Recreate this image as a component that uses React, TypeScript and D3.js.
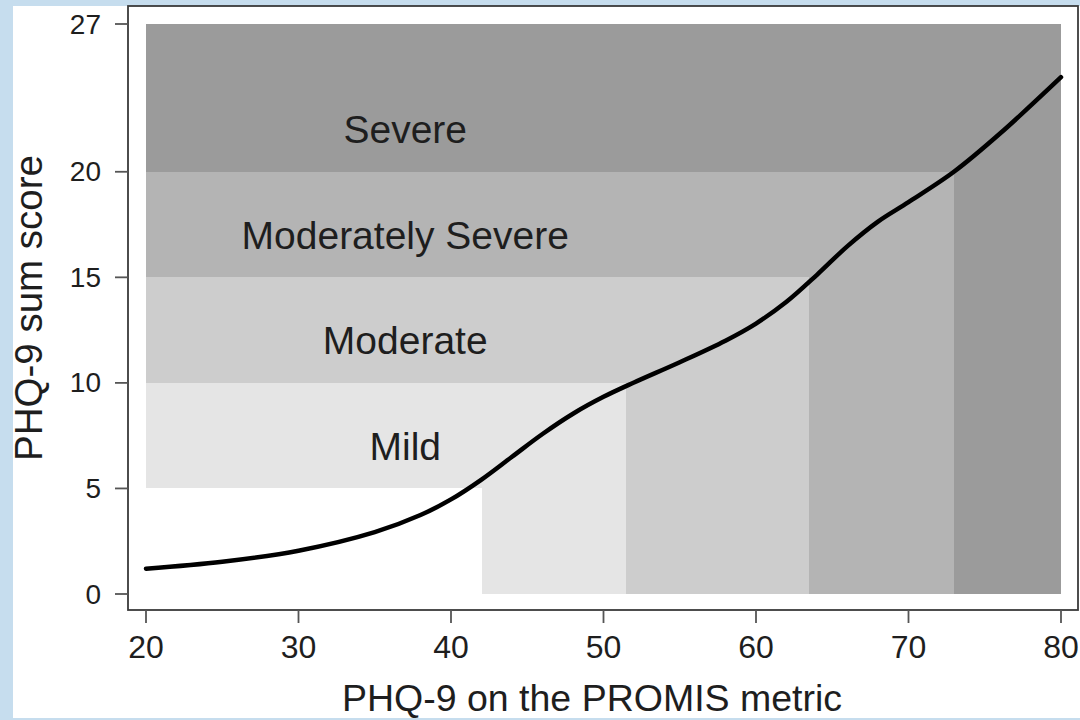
import React from "react";
import * as d3 from "d3";

const categories = ["Mild", "Moderate", "Moderately Severe", "Severe"];
const phqCutoffs = [5, 10, 15, 20];
const promisCutoffs = [42, 51.5, 63.5, 73];
const bandColors = ["#e5e5e5", "#cdcdcd", "#b4b4b4", "#9b9b9b"];
const labelX = [37, 37, 37, 37];
const labelY = [7, 12, 17, 22];

const curveX = [20, 25, 30, 35, 38, 40, 42, 44, 46, 48, 50, 52, 55, 58, 60, 62, 64, 66, 68, 70, 73, 76, 80];
const curveY = [1.2, 1.53, 2.05, 2.93, 3.74, 4.48, 5.42, 6.5, 7.58, 8.54, 9.34, 10.02, 10.98, 12.0, 12.81, 13.84, 15.12, 16.48, 17.64, 18.56, 20.01, 21.81, 24.48];

const xTicks = [20, 30, 40, 50, 60, 70, 80];
const yTicks = [0, 5, 10, 15, 20, 27];
const xDomain = [20, 80];
const yDomain = [0, 27];

const W = 1080;
const H = 720;
const FONT = "'Liberation Sans', Arial, Helvetica, sans-serif";

export default function App() {
  const x = d3.scaleLinear().domain(xDomain).range([146, 1061]);
  const y = d3.scaleLinear().domain(yDomain).range([594, 24]);
  const frame = { left: 128, right: 1078, top: 6, bottom: 610 };

  const rects: { x0: number; x1: number; y0: number; y1: number; c: string }[] = [];
  categories.forEach((_, i) => {
    const xEnd = i < categories.length - 1 ? promisCutoffs[i + 1] : xDomain[1];
    const yTop = i < categories.length - 1 ? phqCutoffs[i + 1] : yDomain[1];
    rects.push({ x0: xDomain[0], x1: xEnd, y0: phqCutoffs[i], y1: yTop, c: bandColors[i] });
    rects.push({ x0: promisCutoffs[i], x1: xEnd, y0: yDomain[0], y1: phqCutoffs[i], c: bandColors[i] });
  });

  const pts: [number, number][] = curveX.map((v, i) => [v, curveY[i]]);
  const line = d3
    .line<[number, number]>()
    .x((d) => x(d[0]))
    .y((d) => y(d[1]))
    .curve(d3.curveCatmullRom.alpha(0.5));

  return (
    <svg
      width={W}
      height={H}
      style={{ position: "absolute", left: 0, top: 0, display: "block" }}
      fontFamily={FONT}
    >
      <rect x={0} y={0} width={W} height={H} fill="#c6ddee" />
      <rect x={13} y={6} width={W - 13} height={712} fill="#ffffff" />

      {rects.map((r, i) => (
        <rect
          key={i}
          x={x(r.x0)}
          y={y(r.y1)}
          width={x(r.x1) - x(r.x0)}
          height={y(r.y0) - y(r.y1)}
          fill={r.c}
          shapeRendering="crispEdges"
        />
      ))}

      {categories.map((c, i) => (
        <text
          key={c}
          x={x(labelX[i])}
          y={y(labelY[i])}
          textAnchor="middle"
          dominantBaseline="central"
          fontSize={39}
          fill="#1e1e1e"
        >
          {c}
        </text>
      ))}

      <path d={line(pts) || ""} fill="none" stroke="#000" strokeWidth={4.5} strokeLinecap="round" />

      <rect
        x={frame.left}
        y={frame.top}
        width={frame.right - frame.left}
        height={frame.bottom - frame.top}
        fill="none"
        stroke="#3a3a3a"
        strokeWidth={1.8}
      />

      {yTicks.map((t) => (
        <g key={"y" + t}>
          <line x1={115} x2={frame.left} y1={y(t)} y2={y(t)} stroke="#555" strokeWidth={1.8} />
          <text
            x={101}
            y={y(t)}
            textAnchor="end"
            dominantBaseline="central"
            fontSize={28}
            fill="#1e1e1e"
          >
            {t}
          </text>
        </g>
      ))}

      {xTicks.map((t) => (
        <g key={"x" + t}>
          <line x1={x(t)} x2={x(t)} y1={frame.bottom} y2={623} stroke="#555" strokeWidth={1.8} />
          <text x={x(t)} y={658} textAnchor="middle" fontSize={32} fill="#1e1e1e">
            {t}
          </text>
        </g>
      ))}

      <text x={592} y={711} textAnchor="middle" fontSize={37.5} fill="#1e1e1e">
        PHQ-9 on the PROMIS metric
      </text>
      <text
        transform={`translate(42, ${(frame.top + frame.bottom) / 2}) rotate(-90)`}
        textAnchor="middle"
        fontSize={38.5}
        fill="#1e1e1e"
      >
        PHQ-9 sum score
      </text>
    </svg>
  );
}
